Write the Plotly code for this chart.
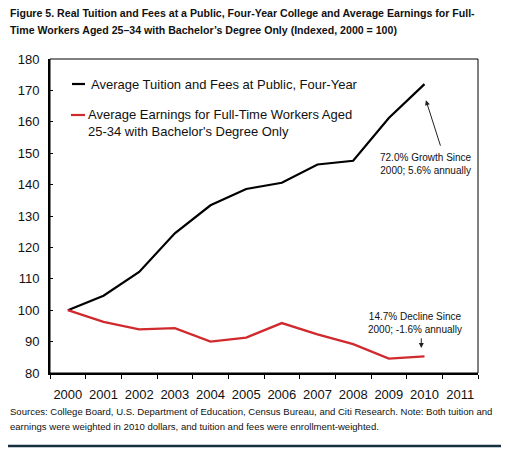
import plotly.graph_objects as go

years = ["2000", "2001", "2002", "2003", "2004", "2005", "2006", "2007", "2008", "2009", "2010", "2011"]
tuition = [100, 104.6, 112.2, 124.5, 133.4, 138.6, 140.6, 146.4, 147.6, 161.2, 172.0, None]
earnings = [100, 96.3, 93.9, 94.3, 90.0, 91.3, 95.9, 92.3, 89.2, 84.6, 85.3, None]

tuition_name = "Average Tuition and Fees at Public, Four-Year"
earnings_name = "Average Earnings for Full-Time Workers Aged<br>25-34 with Bachelor's Degree Only"
title_lines = ["<b>Figure 5. Real Tuition and Fees at a Public, Four-Year College and Average Earnings for Full-</b>",
               "<b>Time Workers Aged 25–34 with Bachelor’s Degree Only (Indexed, 2000 = 100)</b>"]
footer_lines = ["Sources: College Board, U.S. Department of Education, Census Bureau, and Citi Research. Note: Both tuition and",
                "earnings were weighted in 2010 dollars, and tuition and fees were enrollment-weighted."]
growth_note = "72.0% Growth Since<br>2000; 5.6% annually"
decline_note = "14.7% Decline Since<br>2000; -1.6% annually"

BLACK = "#000000"
RED = "#d02a2e"
SANS = "Liberation Sans, Arial, sans-serif"
TXT = "#111111"

fig = go.Figure()
fig.add_trace(go.Scatter(x=years, y=tuition, mode="lines", line=dict(color=BLACK, width=2.2),
                         name="tuition", showlegend=False, hoverinfo="skip"))
fig.add_trace(go.Scatter(x=years, y=earnings, mode="lines", line=dict(color=RED, width=2.3),
                         name="earnings", showlegend=False, hoverinfo="skip"))

# page has an 8px body margin; the figure is sized to fill the rest of the window
OFF = 8
W, H = 509 - OFF, 457 - OFF
# plot area in page pixels
PL, PR, PT, PB = 50, 477.7, 59, 373
L, T = PL - OFF, PT - OFF
R = W - (PR - OFF)
B = H - (PB - OFF)
pw = PR - PL
ph = PB - PT

def px(x):
    return (x - PL) / pw

def py(y):
    return (PB - y) / ph

shapes = [
    dict(type="rect", xref="paper", yref="paper", x0=0, x1=1, y0=0, y1=1,
         line=dict(color=BLACK, width=1)),
    dict(type="line", xref="paper", yref="paper", x0=px(72), x1=px(85), y0=py(84), y1=py(84),
         line=dict(color=BLACK, width=2.2)),
    dict(type="line", xref="paper", yref="paper", x0=px(71), x1=px(85), y0=py(115), y1=py(115),
         line=dict(color=RED, width=2.2)),
    dict(type="line", xref="paper", yref="paper", x0=px(8), x1=px(502), y0=py(446), y1=py(446),
         line=dict(color="#17303f", width=2.5)),
]

annotations = [
    dict(xref="paper", yref="paper", x=px(8), y=py(13), xanchor="left", yanchor="middle",
         text=title_lines[0], showarrow=False, align="left",
         font=dict(family=SANS, size=10.6, color=TXT)),
    dict(xref="paper", yref="paper", x=px(8), y=py(30), xanchor="left", yanchor="middle",
         text=title_lines[1], showarrow=False, align="left",
         font=dict(family=SANS, size=10.6, color=TXT)),
    dict(xref="paper", yref="paper", x=px(8), y=py(411.5), xanchor="left", yanchor="middle",
         text=footer_lines[0], showarrow=False, align="left",
         font=dict(family=SANS, size=9.55, color=TXT)),
    dict(xref="paper", yref="paper", x=px(8), y=py(426), xanchor="left", yanchor="middle",
         text=footer_lines[1], showarrow=False, align="left",
         font=dict(family=SANS, size=9.55, color=TXT)),
    dict(xref="paper", yref="paper", x=px(89), y=py(84), xanchor="left", yanchor="middle",
         text=tuition_name, showarrow=False, align="left",
         font=dict(family=SANS, size=13, color=TXT)),
    dict(xref="paper", yref="paper", x=px(86), y=py(122.5), xanchor="left", yanchor="middle",
         text=earnings_name, showarrow=False, align="left",
         font=dict(family=SANS, size=13, color=TXT)),
    dict(x=10.05, y=146.6, xref="x", yref="y", text=growth_note, showarrow=False, align="center",
         font=dict(family=SANS, size=10, color=TXT)),
    dict(x=9.74, y=96.0, xref="x", yref="y", text=decline_note, showarrow=False, align="center",
         font=dict(family=SANS, size=10, color=TXT)),
    dict(x=10.04, y=166.9, xref="x", yref="y", text="", showarrow=True, ax=15, ay=47,
         arrowhead=2, arrowsize=1, arrowwidth=1, arrowcolor="#222222"),
    dict(x=9.91, y=88.0, xref="x", yref="y", text="", showarrow=True, ax=0, ay=-11,
         arrowhead=2, arrowsize=1, arrowwidth=1, arrowcolor="#222222"),
]

fig.update_layout(
    width=W, height=H,
    margin=dict(l=L, r=R, t=T, b=B, pad=0, autoexpand=False),
    paper_bgcolor="white", plot_bgcolor="white",
    showlegend=False,
    shapes=shapes,
    annotations=annotations,
    xaxis=dict(type="category", categoryorder="array", categoryarray=years,
               range=[-0.5, 11.5], tickson="boundaries", ticks="outside", ticklen=4,
               tickwidth=1.2, tickcolor=BLACK, showline=True, linecolor=BLACK, linewidth=2,
               showgrid=False, zeroline=False, tickangle=0, automargin=False,
               ticklabelstandoff=8,
               tickfont=dict(family=SANS, size=13, color=TXT)),
    yaxis=dict(range=[80, 180], dtick=10, tick0=80, ticks="inside", ticklen=3, tickwidth=1,
               tickcolor=BLACK, showline=True, linecolor=BLACK, linewidth=2,
               showgrid=False, zeroline=False, automargin=False,
               ticklabelstandoff=6,
               tickfont=dict(family=SANS, size=13, color=TXT)),
)

fig.write_html("out.html")
